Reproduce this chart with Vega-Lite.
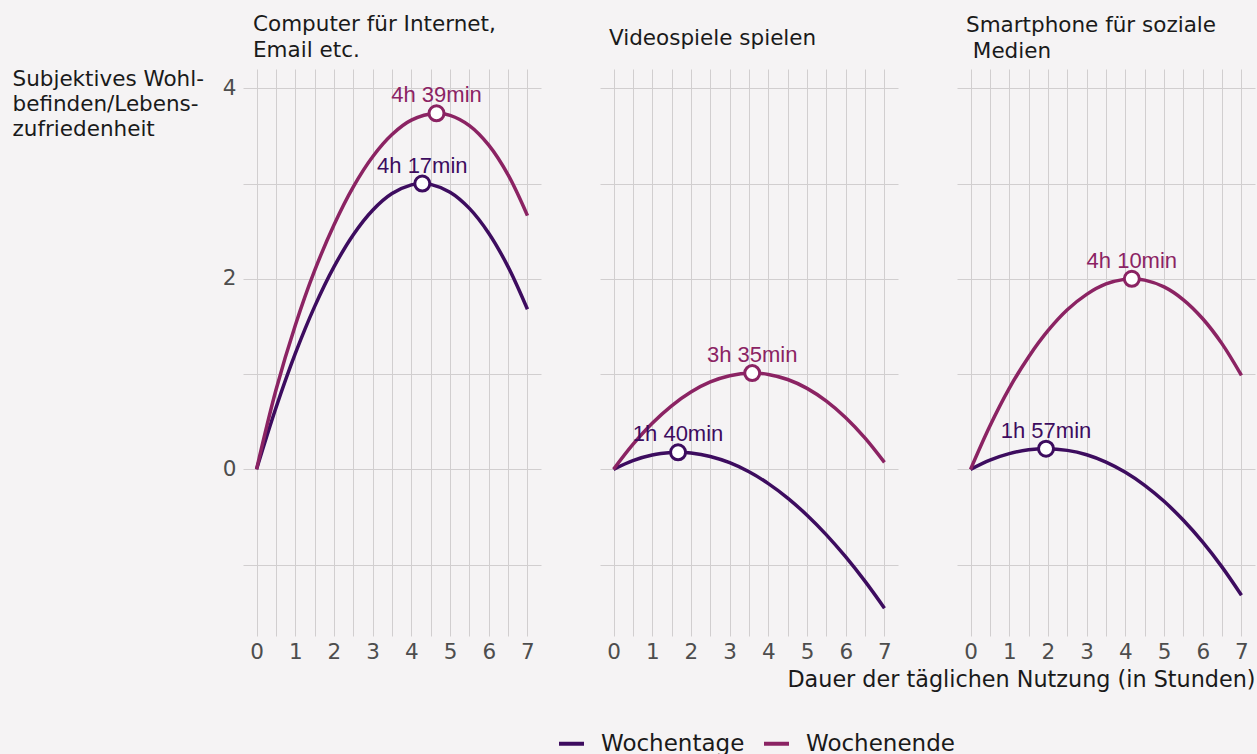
{
  "$schema": "https://vega.github.io/schema/vega-lite/v6.json",
  "background": "#f5f3f4",
  "padding": {"left": 12, "top": 13, "right": 2, "bottom": 4},
  "spacing": 59,
  "bounds": "flush",
  "resolve": {"scale": {"color": "shared"}, "legend": {"color": "shared"}},
  "datasets": {
    "curves": [
      {"panel": "computer", "serie": "Wochentage", "x": 0, "y": 0},
      {"panel": "computer", "serie": "Wochentage", "x": 0.5, "y": 0.644},
      {"panel": "computer", "serie": "Wochentage", "x": 1, "y": 1.214},
      {"panel": "computer", "serie": "Wochentage", "x": 1.5, "y": 1.708},
      {"panel": "computer", "serie": "Wochentage", "x": 2, "y": 2.125},
      {"panel": "computer", "serie": "Wochentage", "x": 2.5, "y": 2.463},
      {"panel": "computer", "serie": "Wochentage", "x": 3, "y": 2.72},
      {"panel": "computer", "serie": "Wochentage", "x": 3.5, "y": 2.895},
      {"panel": "computer", "serie": "Wochentage", "x": 4, "y": 2.986},
      {"panel": "computer", "serie": "Wochentage", "x": 4.283, "y": 3.0},
      {"panel": "computer", "serie": "Wochentage", "x": 4.5, "y": 2.992},
      {"panel": "computer", "serie": "Wochentage", "x": 5, "y": 2.91},
      {"panel": "computer", "serie": "Wochentage", "x": 5.5, "y": 2.74},
      {"panel": "computer", "serie": "Wochentage", "x": 6, "y": 2.479},
      {"panel": "computer", "serie": "Wochentage", "x": 6.5, "y": 2.126},
      {"panel": "computer", "serie": "Wochentage", "x": 7, "y": 1.68},
      {"panel": "computer", "serie": "Wochenende", "x": 0, "y": 0},
      {"panel": "computer", "serie": "Wochenende", "x": 0.5, "y": 0.83},
      {"panel": "computer", "serie": "Wochenende", "x": 1, "y": 1.51},
      {"panel": "computer", "serie": "Wochenende", "x": 1.5, "y": 2.085},
      {"panel": "computer", "serie": "Wochenende", "x": 2, "y": 2.566},
      {"panel": "computer", "serie": "Wochenende", "x": 2.5, "y": 2.966},
      {"panel": "computer", "serie": "Wochenende", "x": 3, "y": 3.282},
      {"panel": "computer", "serie": "Wochenende", "x": 3.5, "y": 3.515},
      {"panel": "computer", "serie": "Wochenende", "x": 4, "y": 3.666},
      {"panel": "computer", "serie": "Wochenende", "x": 4.65, "y": 3.738},
      {"panel": "computer", "serie": "Wochenende", "x": 5, "y": 3.716},
      {"panel": "computer", "serie": "Wochenende", "x": 5.5, "y": 3.608},
      {"panel": "computer", "serie": "Wochenende", "x": 6, "y": 3.403},
      {"panel": "computer", "serie": "Wochenende", "x": 6.5, "y": 3.091},
      {"panel": "computer", "serie": "Wochenende", "x": 7, "y": 2.664},
      {"panel": "video", "serie": "Wochentage", "x": 0, "y": 0},
      {"panel": "video", "serie": "Wochentage", "x": 0.5, "y": 0.091},
      {"panel": "video", "serie": "Wochentage", "x": 1, "y": 0.15},
      {"panel": "video", "serie": "Wochentage", "x": 1.5, "y": 0.176},
      {"panel": "video", "serie": "Wochentage", "x": 1.667, "y": 0.178},
      {"panel": "video", "serie": "Wochentage", "x": 2, "y": 0.171},
      {"panel": "video", "serie": "Wochentage", "x": 2.5, "y": 0.135},
      {"panel": "video", "serie": "Wochentage", "x": 3, "y": 0.069},
      {"panel": "video", "serie": "Wochentage", "x": 3.5, "y": -0.026},
      {"panel": "video", "serie": "Wochentage", "x": 4, "y": -0.15},
      {"panel": "video", "serie": "Wochentage", "x": 4.5, "y": -0.302},
      {"panel": "video", "serie": "Wochentage", "x": 5, "y": -0.482},
      {"panel": "video", "serie": "Wochentage", "x": 5.5, "y": -0.688},
      {"panel": "video", "serie": "Wochentage", "x": 6, "y": -0.92},
      {"panel": "video", "serie": "Wochentage", "x": 6.5, "y": -1.177},
      {"panel": "video", "serie": "Wochentage", "x": 7, "y": -1.458},
      {"panel": "video", "serie": "Wochenende", "x": 0, "y": 0},
      {"panel": "video", "serie": "Wochenende", "x": 0.5, "y": 0.261},
      {"panel": "video", "serie": "Wochenende", "x": 1, "y": 0.484},
      {"panel": "video", "serie": "Wochenende", "x": 1.5, "y": 0.667},
      {"panel": "video", "serie": "Wochenende", "x": 2, "y": 0.812},
      {"panel": "video", "serie": "Wochenende", "x": 2.5, "y": 0.917},
      {"panel": "video", "serie": "Wochenende", "x": 3, "y": 0.983},
      {"panel": "video", "serie": "Wochenende", "x": 3.583, "y": 1.01},
      {"panel": "video", "serie": "Wochenende", "x": 4, "y": 0.996},
      {"panel": "video", "serie": "Wochenende", "x": 4.5, "y": 0.943},
      {"panel": "video", "serie": "Wochenende", "x": 5, "y": 0.85},
      {"panel": "video", "serie": "Wochenende", "x": 5.5, "y": 0.716},
      {"panel": "video", "serie": "Wochenende", "x": 6, "y": 0.542},
      {"panel": "video", "serie": "Wochenende", "x": 6.5, "y": 0.328},
      {"panel": "video", "serie": "Wochenende", "x": 7, "y": 0.073},
      {"panel": "social", "serie": "Wochentage", "x": 0, "y": 0},
      {"panel": "social", "serie": "Wochentage", "x": 0.5, "y": 0.097},
      {"panel": "social", "serie": "Wochentage", "x": 1, "y": 0.165},
      {"panel": "social", "serie": "Wochentage", "x": 1.5, "y": 0.205},
      {"panel": "social", "serie": "Wochentage", "x": 1.95, "y": 0.217},
      {"panel": "social", "serie": "Wochentage", "x": 2.5, "y": 0.199},
      {"panel": "social", "serie": "Wochentage", "x": 3, "y": 0.153},
      {"panel": "social", "serie": "Wochentage", "x": 3.5, "y": 0.076},
      {"panel": "social", "serie": "Wochentage", "x": 4, "y": -0.031},
      {"panel": "social", "serie": "Wochentage", "x": 4.5, "y": -0.168},
      {"panel": "social", "serie": "Wochentage", "x": 5, "y": -0.336},
      {"panel": "social", "serie": "Wochentage", "x": 5.5, "y": -0.535},
      {"panel": "social", "serie": "Wochentage", "x": 6, "y": -0.765},
      {"panel": "social", "serie": "Wochentage", "x": 6.5, "y": -1.027},
      {"panel": "social", "serie": "Wochentage", "x": 7, "y": -1.322},
      {"panel": "social", "serie": "Wochenende", "x": 0, "y": 0},
      {"panel": "social", "serie": "Wochenende", "x": 0.5, "y": 0.455},
      {"panel": "social", "serie": "Wochenende", "x": 1, "y": 0.85},
      {"panel": "social", "serie": "Wochenende", "x": 1.5, "y": 1.18},
      {"panel": "social", "serie": "Wochenende", "x": 2, "y": 1.455},
      {"panel": "social", "serie": "Wochenende", "x": 2.5, "y": 1.675},
      {"panel": "social", "serie": "Wochenende", "x": 3, "y": 1.837},
      {"panel": "social", "serie": "Wochenende", "x": 3.5, "y": 1.946},
      {"panel": "social", "serie": "Wochenende", "x": 4, "y": 1.997},
      {"panel": "social", "serie": "Wochenende", "x": 4.167, "y": 2.0},
      {"panel": "social", "serie": "Wochenende", "x": 4.5, "y": 1.986},
      {"panel": "social", "serie": "Wochenende", "x": 5, "y": 1.915},
      {"panel": "social", "serie": "Wochenende", "x": 5.5, "y": 1.78},
      {"panel": "social", "serie": "Wochenende", "x": 6, "y": 1.581},
      {"panel": "social", "serie": "Wochenende", "x": 6.5, "y": 1.317},
      {"panel": "social", "serie": "Wochenende", "x": 7, "y": 0.986}
    ],
    "peaks": [
      {"panel": "computer", "serie": "Wochentage", "x": 4.283, "y": 3.0, "label": "4h 17min"},
      {"panel": "computer", "serie": "Wochenende", "x": 4.65, "y": 3.738, "label": "4h 39min"},
      {"panel": "video", "serie": "Wochentage", "x": 1.667, "y": 0.178, "label": "1h 40min"},
      {"panel": "video", "serie": "Wochenende", "x": 3.583, "y": 1.01, "label": "3h 35min"},
      {"panel": "social", "serie": "Wochentage", "x": 1.95, "y": 0.217, "label": "1h 57min"},
      {"panel": "social", "serie": "Wochenende", "x": 4.167, "y": 2.0, "label": "4h 10min"}
    ]
  },
  "hconcat": [
    {
      "width": 298, "height": 567,
      "title": {"text": ["Computer für Internet,", "Email etc."], "dx": 10, "offset": 7},
      "encoding": {
        "x": {"field": "x", "type": "quantitative", "scale": {"domain": [-0.35, 7.35], "nice": false, "zero": false},
              "axis": {"values": [0,0.5,1,1.5,2,2.5,3,3.5,4,4.5,5,5.5,6,6.5,7], "labelExpr": "datum.value % 1 === 0 ? format(datum.value, 'd') : ''", "title": null, "labelPadding": 5, "labelFlush": false, "labelOverlap": false}},
        "y": {"field": "y", "type": "quantitative", "scale": {"domain": [-1.75, 4.203], "nice": false, "zero": false},
              "axis": {"values": [-1,0,1,2,3,4], "labelExpr": "datum.value % 2 === 0 ? format(datum.value, 'd') : ''", "labelPadding": 7, "labelOverlap": false,
                       "title": ["Subjektives Wohl-", "befinden/Lebens-", "zufriedenheit"], "titleAngle": 0, "titleAlign": "left", "titleBaseline": "top", "titleX": -231, "titleY": -1, "titleFontSize": 21.5, "titleLineHeight": 25}}
      },
      "layer": [
        {"data": {"name": "curves"}, "transform": [{"filter": "datum.panel === 'computer'"}],
         "mark": {"type": "line", "strokeWidth": 3.5, "interpolate": "catmull-rom"},
         "encoding": {"color": {"field": "serie", "type": "nominal", "scale": {"domain": ["Wochentage", "Wochenende"], "range": ["#3d0c5f", "#8b2363"]},
           "legend": {"orient": "none", "legendX": 314, "legendY": 660, "direction": "horizontal", "columns": 2, "title": null, "symbolType": "stroke", "symbolSize": 625, "symbolStrokeWidth": 4, "labelFont": "DejaVu Sans", "labelFontSize": 23, "labelColor": "#1a1a1a", "labelOffset": 15, "columnPadding": 11, "labelLimit": 300, "symbolOpacity": 1}}}},
        {"data": {"name": "peaks"}, "transform": [{"filter": "datum.panel === 'computer'"}],
         "mark": {"type": "point", "shape": "circle", "filled": true, "fill": "white", "size": 225, "strokeWidth": 3, "opacity": 1},
         "encoding": {"stroke": {"field": "serie", "type": "nominal", "scale": {"domain": ["Wochentage", "Wochenende"], "range": ["#3d0c5f", "#8b2363"]}, "legend": null}}},
        {"data": {"name": "peaks"}, "transform": [{"filter": "datum.panel === 'computer'"}],
         "mark": {"type": "text", "font": "Liberation Sans", "fontSize": 22, "dy": -11, "baseline": "alphabetic", "align": "center"},
         "encoding": {"text": {"field": "label"}, "color": {"field": "serie", "type": "nominal", "legend": null}}}
      ]
    },
    {
      "width": 298, "height": 567,
      "title": {"text": "Videospiele spielen", "dx": 9, "offset": 20},
      "encoding": {
        "x": {"field": "x", "type": "quantitative", "scale": {"domain": [-0.35, 7.35], "nice": false, "zero": false},
              "axis": {"values": [0,0.5,1,1.5,2,2.5,3,3.5,4,4.5,5,5.5,6,6.5,7], "labelExpr": "datum.value % 1 === 0 ? format(datum.value, 'd') : ''", "title": null, "labelPadding": 5, "labelFlush": false, "labelOverlap": false}},
        "y": {"field": "y", "type": "quantitative", "scale": {"domain": [-1.75, 4.203], "nice": false, "zero": false},
              "axis": {"values": [-1,0,1,2,3,4], "labels": false, "title": null}}
      },
      "layer": [
        {"data": {"name": "curves"}, "transform": [{"filter": "datum.panel === 'video'"}],
         "mark": {"type": "line", "strokeWidth": 3.5, "interpolate": "catmull-rom"},
         "encoding": {"color": {"field": "serie", "type": "nominal", "scale": {"domain": ["Wochentage", "Wochenende"], "range": ["#3d0c5f", "#8b2363"]}}}},
        {"data": {"name": "peaks"}, "transform": [{"filter": "datum.panel === 'video'"}],
         "mark": {"type": "point", "shape": "circle", "filled": true, "fill": "white", "size": 225, "strokeWidth": 3, "opacity": 1},
         "encoding": {"stroke": {"field": "serie", "type": "nominal", "scale": {"domain": ["Wochentage", "Wochenende"], "range": ["#3d0c5f", "#8b2363"]}, "legend": null}}},
        {"data": {"name": "peaks"}, "transform": [{"filter": "datum.panel === 'video'"}],
         "mark": {"type": "text", "font": "Liberation Sans", "fontSize": 22, "dy": -11, "baseline": "alphabetic", "align": "center"},
         "encoding": {"text": {"field": "label"}, "color": {"field": "serie", "type": "nominal", "legend": null}}}
      ]
    },
    {
      "width": 298, "height": 567,
      "title": {"text": ["Smartphone für soziale", "\u200b\u00a0Medien"], "dx": 9, "offset": 7},
      "encoding": {
        "x": {"field": "x", "type": "quantitative", "scale": {"domain": [-0.35, 7.35], "nice": false, "zero": false},
              "axis": {"values": [0,0.5,1,1.5,2,2.5,3,3.5,4,4.5,5,5.5,6,6.5,7], "labelExpr": "datum.value % 1 === 0 ? format(datum.value, 'd') : ''", "labelPadding": 5, "labelFlush": false, "labelOverlap": false,
                       "title": "Dauer der täglichen Nutzung (in Stunden)", "titleAnchor": "end", "titlePadding": 6, "titleFontSize": 22.3}},
        "y": {"field": "y", "type": "quantitative", "scale": {"domain": [-1.75, 4.203], "nice": false, "zero": false},
              "axis": {"values": [-1,0,1,2,3,4], "labels": false, "title": null}}
      },
      "layer": [
        {"data": {"name": "curves"}, "transform": [{"filter": "datum.panel === 'social'"}],
         "mark": {"type": "line", "strokeWidth": 3.5, "interpolate": "catmull-rom"},
         "encoding": {"color": {"field": "serie", "type": "nominal", "scale": {"domain": ["Wochentage", "Wochenende"], "range": ["#3d0c5f", "#8b2363"]}}}},
        {"data": {"name": "peaks"}, "transform": [{"filter": "datum.panel === 'social'"}],
         "mark": {"type": "point", "shape": "circle", "filled": true, "fill": "white", "size": 225, "strokeWidth": 3, "opacity": 1},
         "encoding": {"stroke": {"field": "serie", "type": "nominal", "scale": {"domain": ["Wochentage", "Wochenende"], "range": ["#3d0c5f", "#8b2363"]}, "legend": null}}},
        {"data": {"name": "peaks"}, "transform": [{"filter": "datum.panel === 'social'"}],
         "mark": {"type": "text", "font": "Liberation Sans", "fontSize": 22, "dy": -11, "baseline": "alphabetic", "align": "center"},
         "encoding": {"text": {"field": "label"}, "color": {"field": "serie", "type": "nominal", "legend": null}}}
      ]
    }
  ],
  "config": {
    "view": {"stroke": null},
    "font": "DejaVu Sans",
    "axis": {"domain": false, "ticks": false, "grid": true, "gridColor": "#d1cecf", "gridWidth": 1, "labelFont": "DejaVu Sans", "labelFontSize": 21.5, "labelColor": "#4d4d4d", "titleFont": "DejaVu Sans", "titleFontWeight": "normal", "titleColor": "#1a1a1a"},
    "title": {"font": "DejaVu Sans", "fontSize": 21.5, "fontWeight": "normal", "color": "#1a1a1a", "anchor": "start", "frame": "group", "lineHeight": 26, "baseline": "bottom"}
  }
}
